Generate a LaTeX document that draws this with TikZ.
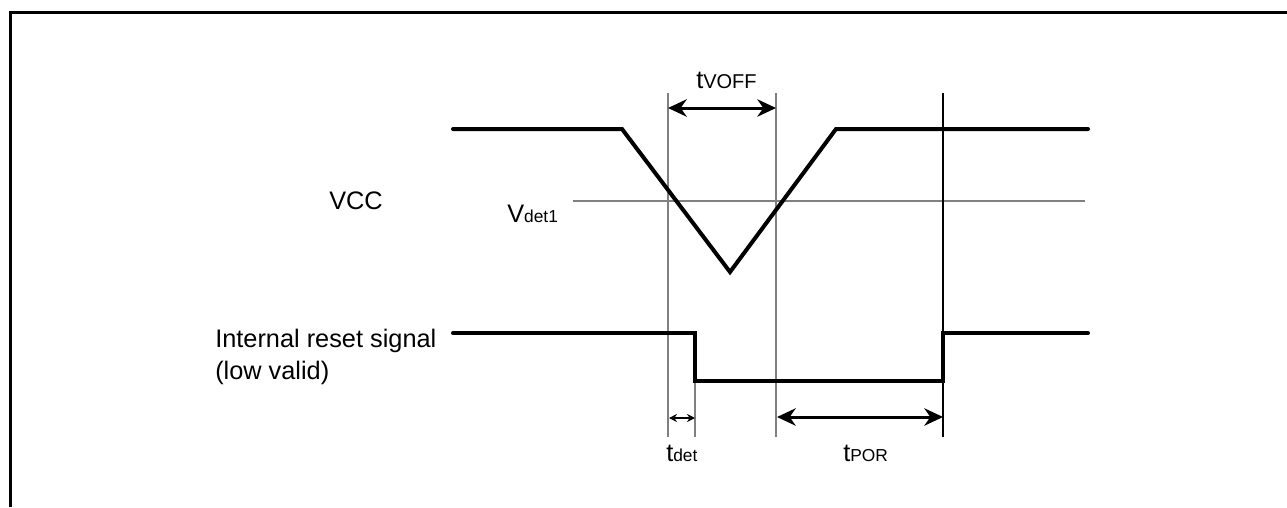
\documentclass[tikz,border=0pt]{standalone}
\usepackage{fontspec}
\setmainfont{Liberation Sans}
\usetikzlibrary{arrows.meta}
\newcommand\bigsub[3][13]{{\fontsize{19}{19}\selectfont #2}{\fontsize{#1}{#1}\selectfont #3}}
\begin{document}
\begin{tikzpicture}[x=0.75pt,y=-0.75pt,font=\fontsize{19}{23}\selectfont,line join=miter,
	sig/.style={line width=3pt,line cap=round},
	guide/.style={line width=0.9pt,black!50},
	lbl/.style={anchor=base west,inner sep=0pt},
	span/.style={line width=2.25pt,{Stealth[length=14pt,width=13pt,inset=4.5pt]}-{Stealth[length=14pt,width=13pt,inset=4.5pt]}},
	shortspan/.style={line width=1.1pt,{Stealth[length=6pt,width=6pt,inset=2pt]}-{Stealth[length=6pt,width=6pt,inset=2pt]}}]
	\useasboundingbox (0,0) rectangle (1287,507);
	\def \hi{129};
	\def \hr{333};
	\def \lr{381};
	% frame
	\draw[line width=2.25pt] (10.5,507) -- (10.5,12.5) -- (1287,12.5);
	% guide lines
	\draw[guide] (573,201) -- (1085,201);
	\foreach \x in {668,776} {\draw[guide] (\x,93) -- (\x,437);}
	\draw[guide] (695,340) -- (695,437);
	\draw[line width=0.8pt] (943,93) -- (943,437);
	% signals
	\draw[sig] (453,\hi) -- (622,\hi) -- (730,272) -- (836,\hi) -- (1088,\hi);
	\draw[sig] (453,\hr) -- (695,\hr) -- (695,\lr) -- (943,\lr) -- (943,\hr) -- (1088,\hr);
	% time spans
	\coordinate (voffA) at (668,108);
	\coordinate (voffB) at (776,108);
	\coordinate (detA) at (669,418);
	\coordinate (detB) at (695,418);
	\coordinate (porA) at (777,417);
	\coordinate (porB) at (943,417);
	\draw[span] (voffA) -- (voffB);
	\draw[shortspan] (detA) -- (detB);
	\draw[span] (porA) -- (porB);
	% labels
	\node[lbl] (vcc) at (329,209) {VCC};
	\node[lbl] (vdet) at (507,222) {\bigsub{V}{det1}};
	\node[lbl] (rst) at (215,347) {Internal reset signal};
	\node[lbl] (lowv) at (215,379) {(low valid)};
	\node[lbl] (tvoff) at (696,88) {\bigsub[15]{t}{VOFF}};
	\node[lbl] (tdet) at (666,461) {\bigsub{t}{det}};
	\node[lbl] (tpor) at (843,461) {\bigsub{t}{POR}};
\end{tikzpicture}
\end{document}
